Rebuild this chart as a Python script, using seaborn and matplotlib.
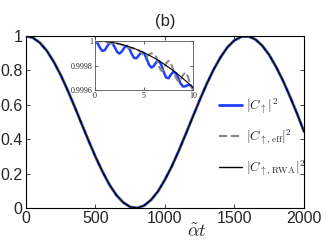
import matplotlib
matplotlib.use("Agg")
import matplotlib.pyplot as plt
import seaborn as sns

## Data
# main panel: population over alpha*t (the three curves overlap here)
main_t = list(range(0, 2001, 50))
main_pop = [1.000, 0.990, 0.961, 0.914, 0.850, 0.773, 0.684, 0.589, 0.490, 0.392,
            0.298, 0.212, 0.136, 0.075, 0.032, 0.006, 0.000, 0.014, 0.047, 0.097,
            0.165, 0.244, 0.334, 0.431, 0.530, 0.628, 0.721, 0.805, 0.877, 0.935,
            0.975, 0.996, 0.998, 0.981, 0.944, 0.890, 0.820, 0.739, 0.647, 0.550,
            0.445]

# inset: short times, 0..10 in steps of 0.25
inset_t = [i * 0.25 for i in range(41)]
inset_full = [1.000000, 0.999983, 0.999945, 0.999919, 0.999926, 0.999958, 0.999986, 0.999984,
              0.999951, 0.999912, 0.999897, 0.999916, 0.999947, 0.999960, 0.999938, 0.999894,
              0.999861, 0.999860, 0.999886, 0.999908, 0.999901, 0.999859, 0.999808, 0.999783,
              0.999796, 0.999827, 0.999839, 0.999809, 0.999750, 0.999703, 0.999696, 0.999726,
              0.999749, 0.999738, 0.999696, 0.999651, 0.999628, 0.999631, 0.999642, 0.999639,
              0.999612]
inset_eff = [1.000000, 0.999993, 0.999996, 0.999998, 0.999995, 0.999989, 0.999982, 0.999979,
             0.999978, 0.999979, 0.999976, 0.999969, 0.999959, 0.999950, 0.999944, 0.999941,
             0.999938, 0.999931, 0.999920, 0.999905, 0.999880, 0.999873, 0.999888, 0.999900,
             0.999891, 0.999871, 0.999797, 0.999757, 0.999772, 0.999815, 0.999838, 0.999819,
             0.999762, 0.999701, 0.999671, 0.999685, 0.999724, 0.999744, 0.999708, 0.999633,
             0.999605]
inset_rwa = [1.000000, 1.000000, 0.999999, 0.999998, 0.999996, 0.999994, 0.999991, 0.999988,
             0.999985, 0.999981, 0.999976, 0.999971, 0.999966, 0.999960, 0.999953, 0.999947,
             0.999939, 0.999931, 0.999923, 0.999914, 0.999905, 0.999895, 0.999885, 0.999874,
             0.999863, 0.999852, 0.999839, 0.999827, 0.999814, 0.999800, 0.999786, 0.999772,
             0.999757, 0.999741, 0.999725, 0.999709, 0.999692, 0.999675, 0.999657, 0.999639,
             0.999620]

labels = [r"$|C_{\uparrow}|^2$", r"$|C_{\uparrow,\mathrm{eff}}|^2$", r"$|C_{\uparrow,\mathrm{RWA}}|^2$"]
x_ticks = [0, 500, 1000, 1500, 2000]
y_ticks = [0, 0.2, 0.4, 0.6, 0.8, 1]
y_ticklabels = ["0", "0.2", "0.4", "0.6", "0.8", "1"]
inset_xticks = [0, 5, 10]
inset_yticks = [0.9996, 0.9998, 1.0]
inset_yticklabels = ["0.9996", "0.9998", "1"]

blue = "#2040ff"
grey = "#8a8a8a"

## Style
sns.set_style("ticks")
plt.rcParams["font.family"] = ["Liberation Sans", "DejaVu Sans"]
plt.rcParams["mathtext.fontset"] = "cm"

fig = plt.figure(figsize=(3.27, 2.46), dpi=100)
ax = fig.add_axes([0.0795, 0.1545, 0.850, 0.699])

## Main panel
sns.lineplot(x=main_t, y=main_pop, ax=ax, color=blue, lw=2.0, label=labels[0])
sns.lineplot(x=main_t, y=main_pop, ax=ax, color=grey, lw=1.6, linestyle="--", label=labels[1])
sns.lineplot(x=main_t, y=main_pop, ax=ax, color="black", lw=1.0, label=labels[2])

ax.set_xlim(0, 2000)
ax.set_ylim(0, 1)
ax.set_xticks(x_ticks)
ax.set_yticks(y_ticks)
ax.set_yticklabels(y_ticklabels)
ax.tick_params(direction="in", top=True, right=True, length=3, width=0.6,
               labelsize=11.5, pad=2.5)
for s in ax.spines.values():
    s.set_linewidth(0.8)
    s.set_color("black")

ax.set_title("(b)", fontsize=12, pad=7)
ax.set_xlabel(r"$\tilde{\alpha}t$", fontsize=13)
ax.xaxis.set_label_coords(0.615, -0.095)

leg = ax.legend(loc="upper left", bbox_to_anchor=(0.67, 0.685), frameon=False,
                fontsize=9.5, handlelength=1.75, handletextpad=0.3,
                labelspacing=0.85, borderpad=0)

## Inset
ins = fig.add_axes([0.2905, 0.6341, 0.2997, 0.1992])
sns.lineplot(x=inset_t, y=inset_full, ax=ins, color=blue, lw=1.8, legend=False)
sns.lineplot(x=inset_t, y=inset_eff, ax=ins, color=grey, lw=1.5, linestyle="--", legend=False)
sns.lineplot(x=inset_t, y=inset_rwa, ax=ins, color="black", lw=0.8, legend=False)
ins.set_xlim(0, 10)
ins.set_ylim(0.9996, 1.0)
ins.set_xticks(inset_xticks)
ins.set_yticks(inset_yticks)
ins.set_yticklabels(inset_yticklabels)
ins.set_xlabel("")
ins.set_ylabel("")
ins.tick_params(direction="in", top=True, right=True, length=2, width=0.5,
                labelsize=5.8, pad=1.5)
for lab in ins.get_xticklabels() + ins.get_yticklabels():
    lab.set_family(["Liberation Serif", "DejaVu Serif"])
for s in ins.spines.values():
    s.set_linewidth(0.6)
    s.set_color("#555555")

fig.savefig("out.png", dpi=100)
